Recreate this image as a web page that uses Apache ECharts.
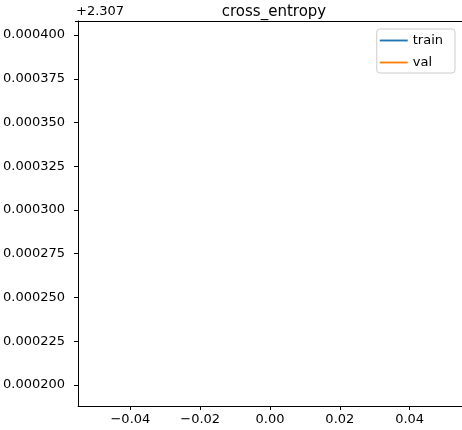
<!DOCTYPE html>
<html>
<head>
<meta charset="utf-8">
<script src="https://cdn.jsdelivr.net/npm/echarts@6/dist/echarts.min.js"></script>
<style>html,body{margin:0;padding:0;background:#fff}#main{width:462px;height:430px}</style>
</head>
<body>
<div id="main"></div>
<script>
  // one epoch only, so the lines have a single point each
  var seriesNames = ['train', 'val'];
  var trainData = [[0, 2.3072]];
  var valData = [[0, 2.3074]];
  var xTicks = [-0.04, -0.02, 0, 0.02, 0.04];
  var yTicks = [2.3072, 2.307225, 2.30725, 2.307275, 2.3073, 2.307325, 2.30735, 2.307375, 2.3074];
  var yOffset = 2.307;

  var myChart = echarts.init(document.getElementById('main'));
  var font = 'DejaVu Sans';
  var option = {
    animation: false,
    textStyle: {fontFamily: font},
    title: {
      text: 'cross_entropy', left: 269, top: 0, textAlign: 'center',
      textStyle: {fontSize: 15, fontWeight: 'normal', color: '#000', fontFamily: font}
    },
    graphic: [{
      type: 'text', left: 76, top: 5,
      style: {text: '+2.307', fontSize: 13, fill: '#000', fontFamily: font}
    }, {
      type: 'line', shape: {x1: 75, y1: 21.5, x2: 462, y2: 21.5}, style: {stroke: '#000', lineWidth: 1}
    }],
    legend: {
      orient: 'vertical', right: 7, top: 29,
      data: seriesNames,
      icon: 'path://M0,0 L30,0 L30,2 L0,2 Z',
      itemWidth: 28, itemHeight: 2, itemGap: 9,
      borderColor: '#ccc', borderWidth: 1, borderRadius: 3,
      padding: [5, 12, 4, 3],
      textStyle: {fontSize: 13, color: '#000', fontFamily: font}
    },
    grid: {left: 75, top: 21, width: 423, height: 385},
    xAxis: {
      type: 'value', min: -0.055, max: 0.055,
      axisLine: {onZero: false, lineStyle: {color: '#000'}},
      splitLine: {show: false},
      axisTick: {customValues: xTicks, length: 4, lineStyle: {color: '#000'}},
      axisLabel: {
        customValues: xTicks, fontSize: 13, color: '#000', margin: 7,
        formatter: function (v) { return v.toFixed(2).replace('-', '\u2212'); }
      }
    },
    yAxis: {
      type: 'value', min: 2.307188, max: 2.307408,
      axisLine: {show: true, onZero: false, lineStyle: {color: '#000'}},
      splitLine: {show: false},
      axisTick: {customValues: yTicks, length: 4, lineStyle: {color: '#000'}},
      axisLabel: {
        customValues: yTicks, fontSize: 13, color: '#000', margin: 13,
        formatter: function (v) { return (v - yOffset).toFixed(6); }
      }
    },
    series: [
      {name: 'train', type: 'line', data: trainData, showSymbol: false, color: '#1f77b4', lineStyle: {width: 1.5}},
      {name: 'val', type: 'line', data: valData, showSymbol: false, color: '#ff7f0e', lineStyle: {width: 1.5}}
    ]
  };
  myChart.setOption(option, true);
</script>
</body>
</html>
